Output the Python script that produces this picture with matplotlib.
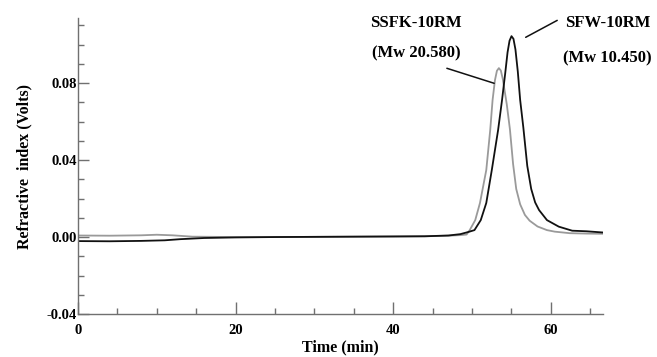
"""GPC traces of SSFK-10RM and SFW-10RM: refractive index vs. elution time."""

import matplotlib
matplotlib.use("Agg")
import matplotlib.pyplot as plt
from matplotlib.ticker import MultipleLocator

# ---------------------------------------------------------------------------
# Data
# ---------------------------------------------------------------------------

# SFW-10RM (black trace)
sfw_time = [0, 4, 8, 11, 13, 16, 20, 25, 30, 35, 40, 44, 47, 48.5, 49.5,
            50.3, 51.1, 51.8, 52.5, 53.3, 53.8, 54.2, 54.5, 54.75, 55.0,
            55.25, 55.5, 55.8, 56.1, 56.5, 57.0, 57.5, 58.0, 58.5, 59.5,
            61.0, 62.7, 64.5, 66.5]
sfw_signal = [-0.0021, -0.0022, -0.0020, -0.0017, -0.0011, -0.0005, -0.0002,
              0.0000, 0.0001, 0.0002, 0.0003, 0.0004, 0.0008, 0.0015, 0.0026,
              0.0036, 0.0088, 0.0177, 0.0348, 0.0556, 0.0712, 0.0850, 0.0960,
              0.1020, 0.1044, 0.1030, 0.0975, 0.0860, 0.0712, 0.0570, 0.0370,
              0.0250, 0.0180, 0.0140, 0.0088, 0.0054, 0.0033, 0.0030, 0.0024]

# SSFK-10RM (grey trace)
ssfk_time = [0, 4, 8, 10, 12, 14.5, 20, 25, 30, 35, 40, 44, 47, 48.5, 49.3,
             49.7, 50.4, 51.0, 51.8, 52.3, 52.6, 52.9, 53.15, 53.4, 53.65,
             53.9, 54.4, 54.8, 55.2, 55.6, 56.1, 56.7, 57.3, 58.3, 59.5, 60.5,
             62.4, 64.5, 66.5]
ssfk_signal = [0.0008, 0.0007, 0.0009, 0.0012, 0.0009, 0.0002, 0.0000,
               0.0000, 0.0001, 0.0002, 0.0003, 0.0004, 0.0007, 0.0010, 0.0013,
               0.0036, 0.0088, 0.0177, 0.0348, 0.0556, 0.0712, 0.0815, 0.0864,
               0.0878, 0.0865, 0.0820, 0.0690, 0.0560, 0.0380, 0.0250, 0.0170,
               0.0115, 0.0085, 0.0055, 0.0036, 0.0028, 0.0020, 0.0018, 0.0017]

x_ticks = [0, 20, 40, 60]
y_ticks = [-0.04, 0.00, 0.04, 0.08]
y_tick_labels = ["-0.04", "0.00", "0.04", "0.08"]

# ---------------------------------------------------------------------------
# Figure
# ---------------------------------------------------------------------------

plt.rcParams["font.family"] = ["Liberation Serif", "DejaVu Serif"]
plt.rcParams["font.weight"] = "bold"

fig = plt.figure(figsize=(6.57, 3.57), dpi=100)
ax = fig.add_axes([0.1187, 0.1204, 0.799, 0.829])

ax.plot(ssfk_time, ssfk_signal, color="#9a9a9a", lw=1.3,
        solid_joinstyle="round")
ax.plot(sfw_time, sfw_signal, color="#111111", lw=1.3,
        solid_joinstyle="round")

ax.set_xlim(0, 66.6)
ax.set_ylim(-0.04, 0.1138)

ax.xaxis.set_major_locator(MultipleLocator(20))
ax.xaxis.set_minor_locator(MultipleLocator(5))
ax.yaxis.set_minor_locator(MultipleLocator(0.01))
ax.set_xticks(x_ticks)
ax.set_yticks(y_ticks)
ax.set_yticklabels(y_tick_labels)

for side in ("top", "right"):
    ax.spines[side].set_visible(False)
for side in ("left", "bottom"):
    ax.spines[side].set_color("#707070")
    ax.spines[side].set_linewidth(1.0)

ax.tick_params(axis="both", which="both", direction="in", color="#707070",
               width=1.0, labelsize=10.5)
ax.tick_params(axis="x", which="major", length=8.6, pad=7)
ax.tick_params(axis="x", which="minor", length=4.3)
ax.tick_params(axis="y", which="major", length=8, pad=1)
ax.tick_params(axis="y", which="minor", length=4.3)
for lbl in ax.get_xticklabels() + ax.get_yticklabels():
    lbl.set_fontweight("bold")

ax.set_xlabel("Time (min)", fontsize=11.5, fontweight="bold", labelpad=2)
ax.set_ylabel("Refractive  index (Volts)", fontsize=11.5, fontweight="bold",
              labelpad=10)

# Peak labels with leader lines
ax.text(42.9, 0.1110, "SSFK-10RM", ha="center", va="center",
        fontsize=12, fontweight="bold")
ax.text(42.9, 0.0955, "(Mw 20.580)", ha="center", va="center",
        fontsize=12, fontweight="bold")
ax.annotate("", xy=(52.8, 0.0799), xytext=(46.8, 0.0877),
            arrowprops=dict(arrowstyle="-", color="#111111", lw=1.1,
                            shrinkA=0, shrinkB=0))

ax.text(67.2, 0.1110, "SFW-10RM", ha="center", va="center",
        fontsize=12, fontweight="bold")
ax.text(67.2, 0.0929, "(Mw 10.450)", ha="center", va="center",
        fontsize=12, fontweight="bold")
ax.annotate("", xy=(56.8, 0.1038), xytext=(60.8, 0.1126),
            arrowprops=dict(arrowstyle="-", color="#111111", lw=1.1,
                            shrinkA=0, shrinkB=0))

fig.savefig("out.png", dpi=100)
plt.close(fig)
